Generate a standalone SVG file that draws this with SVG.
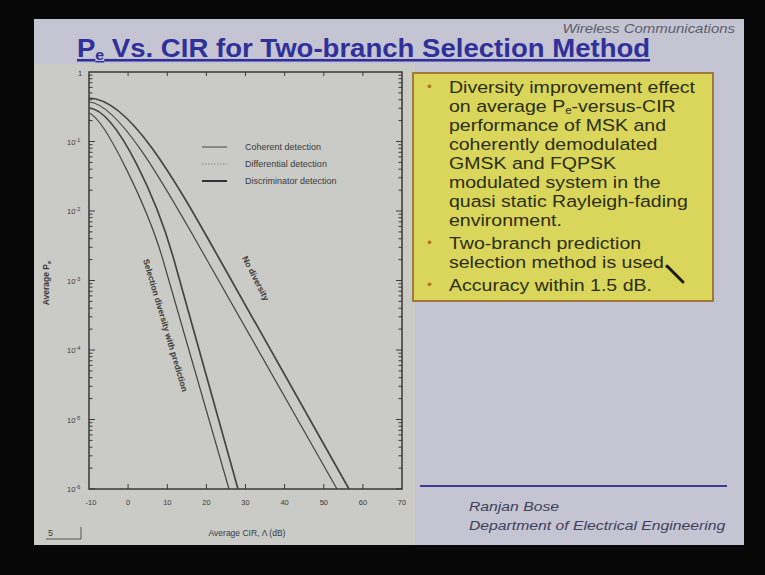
<svg xmlns="http://www.w3.org/2000/svg" xmlns:xlink="http://www.w3.org/1999/xlink" width="765" height="575" viewBox="0 0 765 575">
  <style>
    .axis { fill: none; stroke: #383838; stroke-width: 1.5; }
    .tick { fill: none; stroke: #3a3a3a; stroke-width: 1; }
    .ptxt { font-family: "Liberation Sans", Arial, sans-serif; fill: #3a3a3a; }
    .curve { fill: none; stroke: #454545; stroke-linejoin: round; }
    .thin { stroke-width: 1.2; }
    .thick { stroke-width: 1.7; }
    .box { font-family: "Liberation Sans", Arial, sans-serif; font-size: 17px; fill: #2b2d0c; }
    .bul { font-family: "Liberation Sans", Arial, sans-serif; font-size: 12px; fill: #b5701e; }
    .foot { font-family: "Liberation Sans", Arial, sans-serif; font-style: italic; fill: #40405a; }
  </style>
  <defs>
    <!-- one decade of log ticks: major at 0, minor at log10(2..9) -->
    <g id="decade">
      <path class="tick" d="M0,0h6 M0,-20.9h3.5 M0,-33.2h3.5 M0,-41.8h3.5 M0,-48.6h3.5 M0,-54.1h3.5 M0,-58.7h3.5 M0,-62.8h3.5 M0,-66.3h3.5"/>
    </g>
  </defs>

  <!-- screen surround and slide -->
  <rect x="0" y="0" width="765" height="575" fill="#070707"/>
  <rect id="slide" x="34" y="19" width="710" height="526" fill="#c4c4d2"/>
  <rect id="plot-bg" x="34" y="64" width="381" height="481" fill="#cacac6"/>

  <!-- header -->
  <g id="header">
    <text x="735" y="33" text-anchor="end" class="foot" font-size="13" style="fill:#5c5c6c" transform="matrix(1.15 0 0 1 -110.25 0)">Wireless Communications</text>
    <text x="77" y="57" font-family="Liberation Sans, Arial, sans-serif" font-size="26" font-weight="bold" fill="#30309a" text-decoration="underline" transform="matrix(1.06 0 0 1 -4.62 0)">P<tspan font-size="15" dy="3">e</tspan><tspan dy="-3"> Vs. CIR for Two-branch Selection Method</tspan></text>
  </g>

  <!-- plot -->
  <g id="plot">
    <rect class="axis" x="89" y="72" width="313" height="417"/>
    <!-- left/right log ticks -->
    <use xlink:href="#decade" transform="translate(89,141.5)"/>
    <use xlink:href="#decade" transform="translate(89,211)"/>
    <use xlink:href="#decade" transform="translate(89,280.5)"/>
    <use xlink:href="#decade" transform="translate(89,350)"/>
    <use xlink:href="#decade" transform="translate(89,419.5)"/>
    <use xlink:href="#decade" transform="translate(89,489)"/>
    <use xlink:href="#decade" transform="translate(402,141.5) scale(-1,1)"/>
    <use xlink:href="#decade" transform="translate(402,211) scale(-1,1)"/>
    <use xlink:href="#decade" transform="translate(402,280.5) scale(-1,1)"/>
    <use xlink:href="#decade" transform="translate(402,350) scale(-1,1)"/>
    <use xlink:href="#decade" transform="translate(402,419.5) scale(-1,1)"/>
    <use xlink:href="#decade" transform="translate(402,489) scale(-1,1)"/>
    <!-- x ticks, bottom and top -->
    <path class="tick" d="M128.1,489v-5 M167.3,489v-5 M206.4,489v-5 M245.5,489v-5 M284.6,489v-5 M323.8,489v-5 M362.9,489v-5
                          M128.1,72v4 M167.3,72v4 M206.4,72v4 M245.5,72v4 M284.6,72v4 M323.8,72v4 M362.9,72v4"/>

    <!-- y labels -->
    <g class="ptxt" font-size="7.5">
      <text x="78" y="76">1</text>
      <text x="67" y="145">10<tspan font-size="5.5" dy="-3">-1</tspan></text>
      <text x="67" y="214">10<tspan font-size="5.5" dy="-3">-2</tspan></text>
      <text x="67" y="284">10<tspan font-size="5.5" dy="-3">-3</tspan></text>
      <text x="67" y="353">10<tspan font-size="5.5" dy="-3">-4</tspan></text>
      <text x="67" y="423">10<tspan font-size="5.5" dy="-3">-5</tspan></text>
      <text x="67" y="492">10<tspan font-size="5.5" dy="-3">-6</tspan></text>
    </g>
    <!-- x labels -->
    <g class="ptxt" font-size="7.5" text-anchor="middle">
      <text x="91" y="505">-10</text>
      <text x="128.1" y="505">0</text>
      <text x="167.3" y="505">10</text>
      <text x="206.4" y="505">20</text>
      <text x="245.5" y="505">30</text>
      <text x="284.6" y="505">40</text>
      <text x="323.8" y="505">50</text>
      <text x="362.9" y="505">60</text>
      <text x="402" y="505">70</text>
    </g>
    <text class="ptxt" font-size="8.5" x="247" y="536" text-anchor="middle">Average CIR, Λ (dB)</text>
    <text class="ptxt" font-size="8.5" font-weight="bold" transform="translate(49,283) rotate(-90)" text-anchor="middle">Average P<tspan font-size="6" dy="2">e</tspan></text>

    <!-- curves -->
    <g id="curves">
      <path class="curve thin" d="M89,113 C105,118 148.6,210 163,260 L229,489"/>
      <path class="curve thick" d="M89,108 C118,110 158.7,205 174,260 L238,489"/>
      <path class="curve thin" d="M89,102 C120,104 167.2,190 207,260 L337,489"/>
      <path class="curve thick" d="M89,98 C130,99 175,180 220,260 L349,489"/>
    </g>

    <!-- curve labels -->
    <text class="ptxt" font-size="8.5" font-weight="bold" transform="translate(143,260) rotate(73.5)">Selection diversity with prediction</text>
    <text class="ptxt" font-size="8.5" font-weight="bold" transform="translate(242,258) rotate(63)">No diversity</text>

    <!-- legend -->
    <g id="legend">
      <line x1="202" y1="147" x2="227" y2="147" stroke="#444" stroke-width="1"/>
      <line x1="202" y1="164" x2="227" y2="164" stroke="#8a8a8a" stroke-width="1" stroke-dasharray="1.5 1.5"/>
      <line x1="202" y1="181" x2="227" y2="181" stroke="#333" stroke-width="2"/>
      <g class="ptxt" font-size="9">
        <text x="245" y="150">Coherent detection</text>
        <text x="245" y="167">Differential detection</text>
        <text x="245" y="184">Discriminator detection</text>
      </g>
    </g>
  </g>

  <!-- page number -->
  <g id="page-number">
    <text class="ptxt" font-size="9" x="48" y="536">5</text>
    <path d="M46,539 H81 V527" fill="none" stroke="#555" stroke-width="1"/>
  </g>

  <!-- bullet box -->
  <g id="notes">
    <rect x="413" y="73" width="300" height="228" fill="#dad65c" stroke="#a07a3a" stroke-width="2"/>
    <g transform="matrix(1.15 0 0 1 -67.35 0)">
      <text class="bul" x="429.9" y="91">•</text>
      <text class="bul" x="429.9" y="247">•</text>
      <text class="bul" x="429.9" y="289">•</text>
      <g class="box">
        <text x="449" y="93">Diversity improvement effect</text>
        <text x="449" y="112">on average P<tspan font-size="10" dy="2.5">e</tspan><tspan dy="-2.5">-versus-CIR</tspan></text>
        <text x="449" y="131">performance of MSK and</text>
        <text x="449" y="150">coherently demodulated</text>
        <text x="449" y="169">GMSK and FQPSK</text>
        <text x="449" y="188">modulated system in the</text>
        <text x="449" y="207">quasi static Rayleigh-fading</text>
        <text x="449" y="226">environment.</text>
        <text x="449" y="249">Two-branch prediction</text>
        <text x="449" y="268">selection method is used.</text>
        <text x="449" y="291">Accuracy within 1.5 dB.</text>
      </g>
    </g>
    <!-- pen pointer -->
    <line x1="667" y1="266" x2="683" y2="282" stroke="#1a1a1a" stroke-width="3" stroke-linecap="round"/>
  </g>

  <!-- footer -->
  <g id="footer">
    <line x1="420" y1="486" x2="727" y2="486" stroke="#3c3c8c" stroke-width="2"/>
    <g transform="matrix(1.15 0 0 1 -70.35 0)">
      <text class="foot" font-size="13.7" x="469" y="511">Ranjan Bose</text>
      <text class="foot" font-size="13.7" x="469" y="530">Department of Electrical Engineering</text>
    </g>
  </g>
</svg>
